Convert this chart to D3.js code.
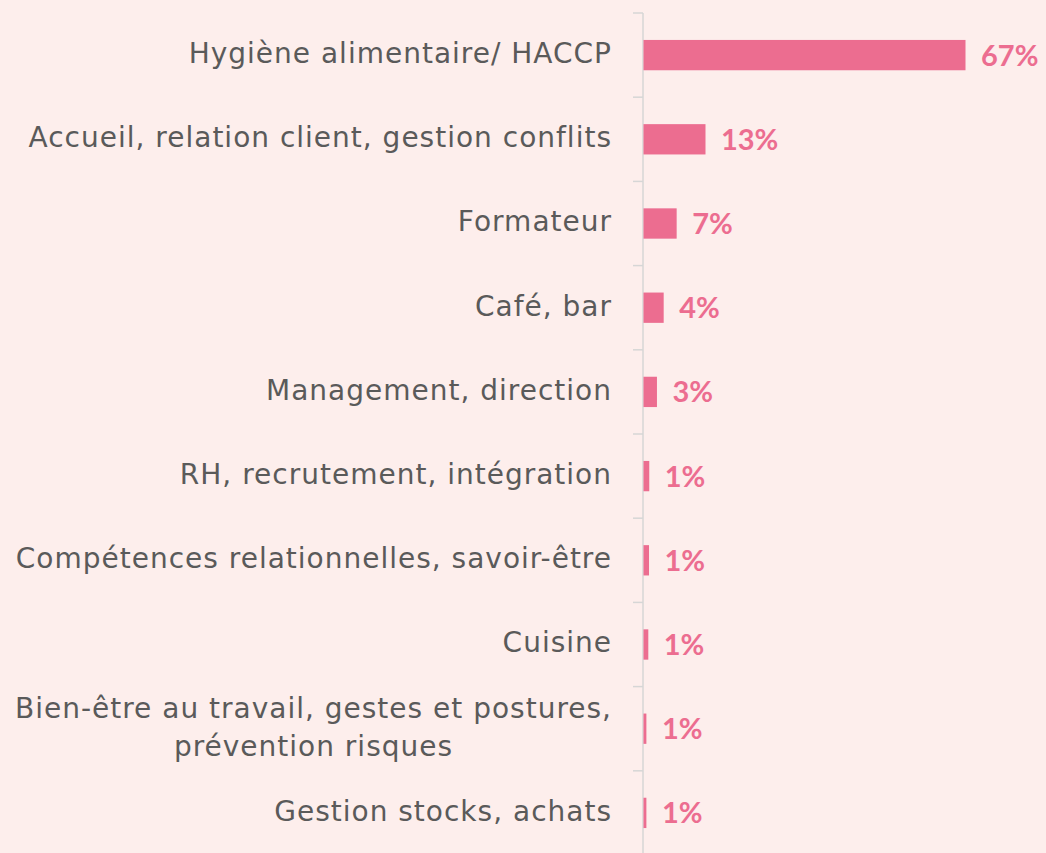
<!DOCTYPE html>
<html>
<head>
<meta charset="utf-8">
<script src="https://cdn.jsdelivr.net/npm/d3@7"></script>
<style>
  html, body { margin: 0; padding: 0; background: #fdeeec; }
  svg { display: block; }
</style>
</head>
<body>
<div id="chart"></div>
<script>
// categories (top to bottom), "\n" marks a line break
const categories = [
  "Hygiène alimentaire/ HACCP",
  "Accueil, relation client, gestion conflits",
  "Formateur",
  "Café, bar",
  "Management, direction",
  "RH, recrutement, intégration",
  "Compétences relationnelles, savoir-être",
  "Cuisine",
  "Bien-être au travail, gestes et postures,\nprévention risques",
  "Gestion stocks, achats"
];
// share of answers, %
const values = [67, 12.9, 6.9, 4.2, 2.8, 1.2, 1.15, 1.0, 0.6, 0.6];
const valueLabels = ["67%", "13%", "7%", "4%", "3%", "1%", "1%", "1%", "1%", "1%"];

const svgWidth = 1046;
const svgHeight = 853;
const axisX = 643;

const data = categories.map((c, i) => ({ cat: c, value: values[i], label: valueLabels[i] }));

const svg = d3.select("#chart")
  .append("svg")
  .attr("width", svgWidth)
  .attr("height", svgHeight);

svg.append("rect")
  .attr("width", svgWidth)
  .attr("height", svgHeight)
  .attr("fill", "#fdeeec");

// scales
const yScale = d3.scaleBand()
  .domain(categories)
  .range([13, 855])
  .paddingInner(0.64)
  .paddingOuter(0.32);

const xScale = d3.scaleLinear()
  .domain([0, 67])
  .range([axisX, axisX + 322]);

// axis line + ticks at band boundaries
const gap = (yScale.step() - yScale.bandwidth()) / 2;
const boundaries = categories.map(c => yScale(c) - gap);

svg.append("line")
  .attr("x1", axisX).attr("x2", axisX)
  .attr("y1", boundaries[0]).attr("y2", svgHeight)
  .attr("stroke", "#d6d6d6")
  .attr("stroke-width", 1.5);

svg.selectAll("line.tick")
  .data(boundaries)
  .enter()
  .append("line")
  .attr("class", "tick")
  .attr("x1", axisX - 10).attr("x2", axisX)
  .attr("y1", d => d).attr("y2", d => d)
  .attr("stroke", "#d6d6d6")
  .attr("stroke-width", 1.5);

// bars
svg.selectAll("rect.bar")
  .data(data)
  .enter()
  .append("rect")
  .attr("class", "bar")
  .attr("x", xScale(0) + 0.5)
  .attr("y", d => yScale(d.cat))
  .attr("width", d => xScale(d.value) - xScale(0))
  .attr("height", yScale.bandwidth())
  .attr("fill", "#ec6d90");

// value labels
svg.selectAll("text.val")
  .data(data)
  .enter()
  .append("text")
  .attr("class", "val")
  .attr("x", d => xScale(d.value) + 16)
  .attr("y", d => yScale(d.cat) + yScale.bandwidth() / 2)
  .attr("dy", "0.36em")
  .style("font-family", "Lato, sans-serif")
  .style("font-weight", "bold")
  .style("font-size", "29px")
  .style("fill", "#ec6d90")
  .text(d => d.label);

// category labels
const labelRight = 612;
const labels = svg.selectAll("g.lab")
  .data(data)
  .enter()
  .append("g")
  .attr("class", "lab")
  .attr("transform", d => `translate(0, ${yScale(d.cat) + yScale.bandwidth() / 2})`);

labels.each(function(d) {
  const g = d3.select(this);
  const lines = d.cat.split("\n");
  const lh = 38;
  const t = g.append("text")
    .style("font-family", "'DejaVu Sans', sans-serif")
    .style("font-size", "28px")
    .style("letter-spacing", "1px")
    .style("fill", "#5a5a5a");
  lines.forEach((ln, i) => {
    t.append("tspan")
      .attr("x", 0)
      .attr("y", (i - (lines.length - 1) / 2) * lh)
      .attr("dy", "0.28em")
      .text(ln);
  });
  // right align block, centre lines inside it
  const w = t.node().getBBox().width;
  t.attr("text-anchor", "middle")
   .selectAll("tspan").attr("x", labelRight - w / 2);
});
</script>
</body>
</html>
